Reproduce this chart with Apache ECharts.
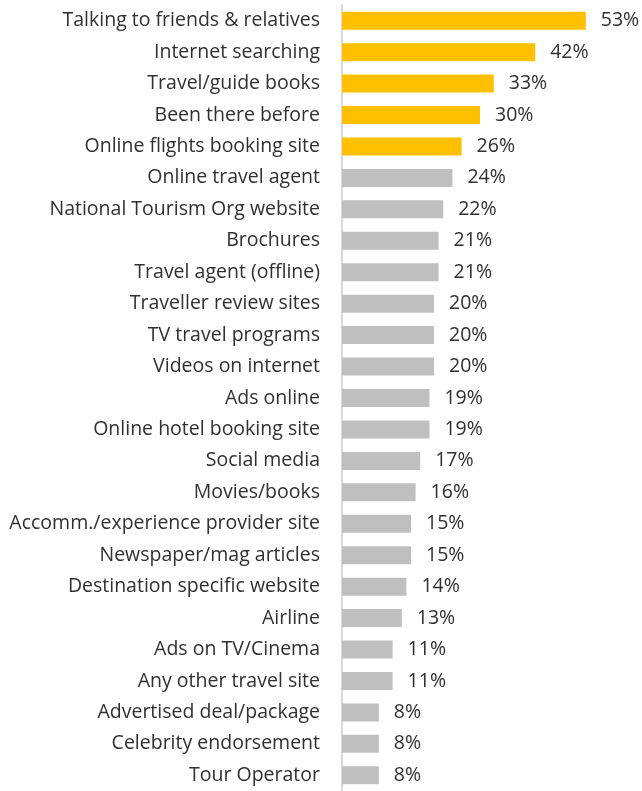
<!DOCTYPE html>
<html>
<head>
<meta charset="utf-8">
<script src="https://cdn.jsdelivr.net/npm/echarts@6/dist/echarts.min.js"></script>
<style>
  html, body { margin: 0; padding: 0; background: #fff; }
  #chart { width: 642px; height: 791px; }
</style>
</head>
<body>
<div id="chart"></div>
<script>
// Information sources used when planning a trip (% of respondents)
const categories = [
  'Talking to friends & relatives',
  'Internet searching',
  'Travel/guide books',
  'Been there before',
  'Online flights booking site',
  'Online travel agent',
  'National Tourism Org website',
  'Brochures',
  'Travel agent (offline)',
  'Traveller review sites',
  'TV travel programs',
  'Videos on internet',
  'Ads online',
  'Online hotel booking site',
  'Social media',
  'Movies/books',
  'Accomm./experience provider site',
  'Newspaper/mag articles',
  'Destination specific website',
  'Airline',
  'Ads on TV/Cinema',
  'Any other travel site',
  'Advertised deal/package',
  'Celebrity endorsement',
  'Tour Operator'
];
const values = [53, 42, 33, 30, 26, 24, 22, 21, 21, 20, 20, 20, 19, 19, 17, 16, 15, 15, 14, 13, 11, 11, 8, 8, 8];
// The top five sources are highlighted
const highlightCount = 5;

const HIGHLIGHT = '#FFC000';
const OTHER = '#BFBFBF';
const TEXT = '#303030';
const FONT = '"Open Sans", "Noto Sans", sans-serif';

const chart = echarts.init(document.getElementById('chart'), null, { renderer: 'canvas' });
chart.setOption({
  animation: false,
  backgroundColor: '#fff',
  grid: { left: 342, top: 5, width: 276, height: 788.5, containLabel: false },
  xAxis: {
    type: 'value',
    min: 0,
    max: 60,
    show: false
  },
  yAxis: {
    type: 'category',
    data: categories,
    inverse: true,
    axisLine: { show: true, lineStyle: { color: '#D9D9D9', width: 2 } },
    axisTick: { show: false },
    axisLabel: {
      color: TEXT,
      fontFamily: FONT,
      fontSize: 19.5,
      margin: 22,
      padding: [3, 0, 0, 0]
    }
  },
  series: [{
    type: 'bar',
    data: values.map((v, i) => ({
      value: v,
      itemStyle: { color: i < highlightCount ? HIGHLIGHT : OTHER }
    })),
    barWidth: 18,
    label: {
      show: true,
      position: 'right',
      distance: 15,
      padding: [3, 0, 0, 0],
      formatter: p => p.value + '%',
      color: TEXT,
      fontFamily: FONT,
      fontSize: 19.5
    }
  }]
});
</script>
</body>
</html>
